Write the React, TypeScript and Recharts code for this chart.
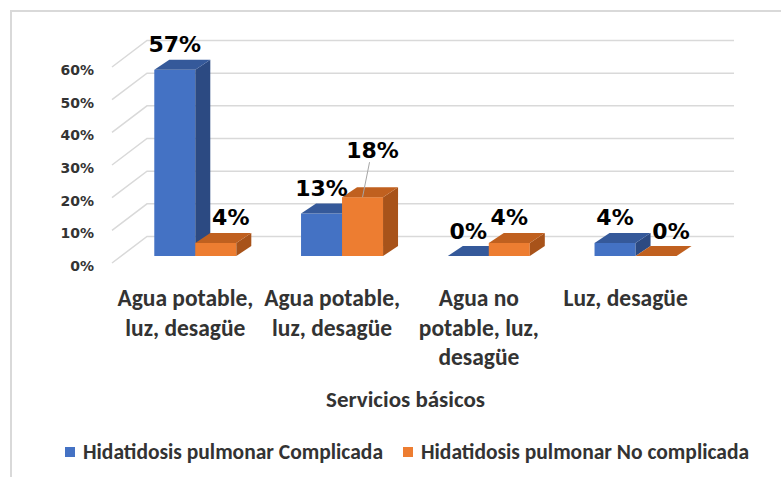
import { BarChart, Bar, XAxis, YAxis, CartesianGrid, Legend, LabelList, Label } from 'recharts';

const categories = ['Agua potable, luz, desagüe', 'Agua potable, luz, desagüe', 'Agua no potable, luz, desagüe', 'Luz, desagüe'];
const categoryLines = [
  ['Agua potable,', 'luz, desagüe'],
  ['Agua potable,', 'luz, desagüe'],
  ['Agua no', 'potable, luz,', 'desagüe'],
  ['Luz, desagüe'],
];
const complicada = [57, 13, 0, 4];
const noComplicada = [4, 18, 4, 0];
const yTicks = [0, 10, 20, 30, 40, 50, 60];
const seriesNames = ['Hidatidosis pulmonar Complicada', 'Hidatidosis pulmonar No complicada'];

const data = categories.map((name, i) => ({ name, complicada: complicada[i], noComplicada: noComplicada[i] }));

const BLUE = { front: '#4472C4', top: '#35599A', side: '#2C4A82' };
const ORANGE = { front: '#ED7D31', top: '#C0601F', side: '#A8531A' };

// fake 3D: back wall offset, bar position inside the floor, bar depth
const WALL = { dx: 35, dy: 26.5 };
const BAR_OFF = { dx: 10, dy: 7 };
const DEPTH = { dx: 15, dy: 10 };

const SANS = 'Carlito, Lato, sans-serif';
const LABEL_FONT = '"DejaVu Sans", Verdana, sans-serif';

function Box3D(props: any) {
  const { x, y, width, height, colors } = props;
  const fx = x + BAR_OFF.dx;
  const fy = y - BAR_OFF.dy;
  const h = Math.max(0, height);
  const top = `M${fx},${fy} L${fx + DEPTH.dx},${fy - DEPTH.dy} L${fx + width + DEPTH.dx},${fy - DEPTH.dy} L${fx + width},${fy} Z`;
  const side = `M${fx + width},${fy} L${fx + width + DEPTH.dx},${fy - DEPTH.dy} L${fx + width + DEPTH.dx},${fy + h - DEPTH.dy} L${fx + width},${fy + h} Z`;
  return (
    <g>
      <rect x={fx} y={fy} width={width} height={h} fill={colors.front} />
      <path d={side} fill={colors.side} />
      <path d={top} fill={colors.top} />
    </g>
  );
}

function ValueLabel(props: any) {
  const { x, y, width, value, index, series } = props;
  // Excel nudged a few labels; the 18% one is pulled out with a leader line
  const moved = series === 1 && index === 1;
  const shifted = series === 1 && (index === 0 || index === 3);
  const cx = x + BAR_OFF.dx + width / 2;
  const topY = y - BAR_OFF.dy;
  const tx = moved ? cx + 10 : shifted ? cx + 15 : cx;
  const ty = moved ? topY - 47 : topY - 25;
  return (
    <g>
      {moved && <line x1={cx + 7} y1={ty + 12} x2={cx} y2={topY} stroke="#a6a6a6" strokeWidth={1} />}
      <text x={tx} y={ty} textAnchor="middle" dominantBaseline="central" fontFamily={LABEL_FONT} fontWeight={700} fontSize={22} fill="#000">
        {`${value}%`}
      </text>
    </g>
  );
}

function WallLine(props: any) {
  const { x1, y1, x2 } = props;
  return (
    <path
      d={`M${x1},${y1} L${x1 + WALL.dx},${y1 - WALL.dy} L${x2 + WALL.dx},${y1 - WALL.dy}`}
      fill="none"
      stroke="#d9d9d9"
      strokeWidth={1.5}
    />
  );
}

function CategoryTick(props: any) {
  const { x, y, index } = props;
  const lines = categoryLines[index] || [];
  return (
    <text x={x} y={y} textAnchor="middle" fontFamily={SANS} fontWeight={700} fontSize={23.5} fill="#333">
      {lines.map((l, i) => (
        <tspan key={i} x={x} dy={i === 0 ? 35 : 29.5}>{l}</tspan>
      ))}
    </text>
  );
}

function LegendBox() {
  const item = (color: string, text: string) => (
    <span style={{ display: 'inline-flex', alignItems: 'center', marginRight: 20 }}>
      <span style={{ width: 10, height: 10, background: color, marginRight: 8, display: 'inline-block' }} />
      {text}
    </span>
  );
  return (
    <div style={{ height: 30, display: 'flex', alignItems: 'center', paddingLeft: 65, fontFamily: SANS, fontWeight: 700, fontSize: 21.5, color: '#333', whiteSpace: 'nowrap' }}>
      {item(BLUE.front, seriesNames[0])}
      {item(ORANGE.front, seriesNames[1])}
    </div>
  );
}

export default function App() {
  return (
    <div style={{ position: 'absolute', left: 0, top: 0, width: 781, height: 477, background: '#fff' }}>
      <div style={{ position: 'absolute', left: 10, top: 10, right: 0, bottom: 0, borderLeft: '2px solid #d9d9d9', borderTop: '2px solid #d9d9d9' }} />
      <BarChart
        width={781}
        height={477}
        data={data}
        margin={{ top: 67, right: 82, left: 0, bottom: 10 }}
        barCategoryGap="22%"
        barGap={0}
      >
        <CartesianGrid vertical={false} horizontal={(p: any) => <WallLine key={p.key} {...p} />} />
        <XAxis dataKey="name" axisLine={false} tickLine={false} height={174} interval={0} tick={<CategoryTick />}>
          <Label value="Servicios básicos" position="insideBottom" offset={30} style={{ fontFamily: SANS, fontWeight: 700, fontSize: 23, fill: '#333' }} />
        </XAxis>
        <YAxis
          width={112}
          domain={[0, 60]}
          ticks={yTicks}
          axisLine={false}
          tickLine={false}
          tickMargin={12}
          tickFormatter={(v) => `${v}%`}
          tick={{ fontFamily: LABEL_FONT, fontWeight: 700, fontSize: 14, fill: '#333', dy: 3 }}
        />
        <Legend verticalAlign="bottom" height={30} content={() => <LegendBox />} />
        <Bar dataKey="complicada" name={seriesNames[0]} fill={BLUE.front} isAnimationActive={false} shape={(p: any) => <Box3D {...p} colors={BLUE} />}>
          <LabelList dataKey="complicada" content={(p: any) => <ValueLabel {...p} series={0} />} />
        </Bar>
        <Bar dataKey="noComplicada" name={seriesNames[1]} fill={ORANGE.front} isAnimationActive={false} shape={(p: any) => <Box3D {...p} colors={ORANGE} />}>
          <LabelList dataKey="noComplicada" content={(p: any) => <ValueLabel {...p} series={1} />} />
        </Bar>
      </BarChart>
    </div>
  );
}
